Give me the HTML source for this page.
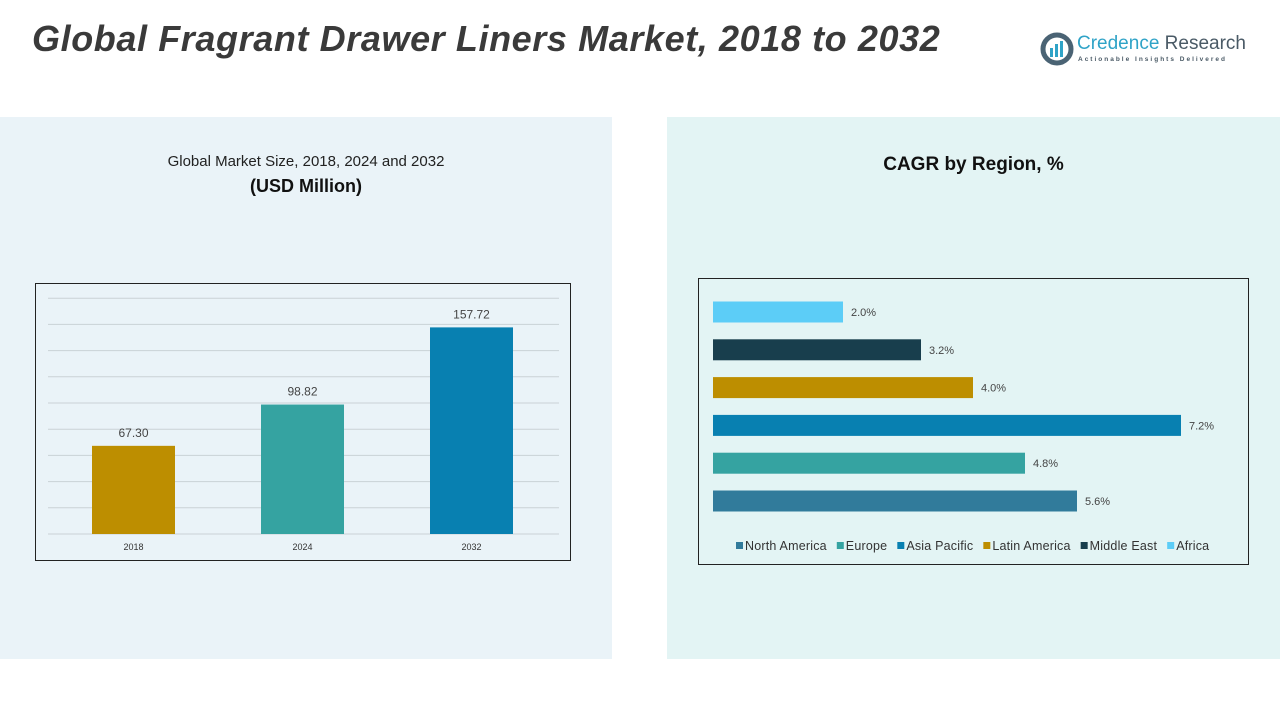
<!DOCTYPE html>
<html><head><meta charset="utf-8">
<style>
body{margin:0;width:1280px;height:720px;background:#fff;position:relative;overflow:hidden;font-family:"Liberation Sans",sans-serif;}
.abs{position:absolute;}
</style></head>
<body>
<div class="abs" style="left:32px;top:18px;font-size:36px;font-weight:bold;font-style:italic;color:#3a3a3a;letter-spacing:0.6px;">Global Fragrant Drawer Liners Market, 2018 to 2032</div>
<div class="abs" style="left:1040px;top:30px;width:215px;height:40px;">
  <svg width="34" height="34" viewBox="0 0 34 34" style="position:absolute;left:0;top:2px">
    <circle cx="17" cy="17" r="14" fill="none" stroke="#4a6374" stroke-width="5"/>
    <rect x="10" y="16" width="3" height="9" fill="#2fa3c7"/><rect x="15" y="12" width="3" height="13" fill="#2fa3c7"/><rect x="20" y="9" width="3" height="16" fill="#2fa3c7"/>
  </svg>
  <div class="abs" style="left:37px;top:3px;font-size:19px;color:#2fa3c7;white-space:nowrap;">Credence <span style="color:#4a5a66">Research</span></div>
  <div class="abs" style="left:38px;top:26px;font-size:6.5px;letter-spacing:2px;color:#4a5a66;white-space:nowrap;font-weight:bold;">Actionable Insights Delivered</div>
</div>
<div class="abs" style="left:0;top:117px;width:612px;height:542px;background:#eaf3f8;"></div>
<div class="abs" style="left:667px;top:117px;width:613px;height:542px;background:#e3f4f4;"></div>
<div class="abs" style="left:0;top:153px;width:612px;text-align:center;font-size:15px;color:#222;">Global Market Size, 2018, 2024 and 2032</div>
<div class="abs" style="left:0;top:176px;width:612px;text-align:center;font-size:18px;font-weight:bold;color:#111;">(USD Million)</div>
<div class="abs" style="left:667px;top:154px;width:613px;text-align:center;font-size:19px;font-weight:bold;color:#111;">CAGR by Region, %</div>

<svg class="abs" style="left:0;top:0" width="1280" height="720" id="charts">
  <rect x="35.5" y="283.5" width="535" height="277" fill="none" stroke="#222" stroke-width="1"/>
  <rect x="698.5" y="278.5" width="550" height="286" fill="none" stroke="#222" stroke-width="1"/>
  <g id="left"></g><g id="right"></g>
</svg>
<script>
const years=["2018","2024","2032"];
const sizes=[67.30,98.82,157.72];
const sizeLabels=["67.30","98.82","157.72"];
const yTicks=[0,20,40,60,80,100,120,140,160,180];
const regions=["Africa","Middle East","Latin America","Asia Pacific","Europe","North America"];
const cagr=[2.0,3.2,4.0,7.2,4.8,5.6];
const cagrLabels=["2.0%","3.2%","4.0%","7.2%","4.8%","5.6%"];
const legendOrder=["North America","Europe","Asia Pacific","Latin America","Middle East","Africa"];
const colors={"North America":"#317b9b","Europe":"#35a3a1","Asia Pacific":"#0880b1","Latin America":"#bd8e00","Middle East":"#183e4d","Africa":"#5ccdf7"};
const yearColors=["#bd8e00","#35a3a1","#0880b1"];
const NS="http://www.w3.org/2000/svg";
function mk(t,a,p){const e=document.createElementNS(NS,t);for(const k in a)e.setAttribute(k,a[k]);p.appendChild(e);return e;}
const L=document.getElementById('left'),R=document.getElementById('right');
const y0=534,yScale=v=>y0-v*1.31;
const xBand=i=>92+i*169,bw=83;
yTicks.forEach(t=>{const l=mk('line',{x1:48,x2:559,y1:yScale(t),y2:yScale(t),stroke:'#c9d2d6','stroke-width':1},L);

});
years.forEach((yr,i)=>{
 const r=mk('rect',{x:xBand(i),y:yScale(sizes[i]),width:bw,height:y0-yScale(sizes[i]),fill:yearColors[i]},L);
 
 
 const v=mk('text',{x:xBand(i)+bw/2,y:yScale(sizes[i])-9,'text-anchor':'middle','font-size':12,fill:'#444','font-family':'Liberation Sans'},L);v.textContent=sizeLabels[i];
 
 
 const x=mk('text',{x:xBand(i)+bw/2,y:550,'text-anchor':'middle','font-size':9,fill:'#333','font-family':'Liberation Sans'},L);x.textContent=yr;
 
 
});
const x0=713,xs=v=>x0+v*65,yc=i=>312+i*37.8,bh=21;
regions.forEach((rg,i)=>{
 const r=mk('rect',{x:x0,y:yc(i)-bh/2,width:xs(cagr[i])-x0,height:bh,fill:colors[rg]},R);
 
 
 const t=mk('text',{x:xs(cagr[i])+8,y:yc(i)+4,'font-size':11,fill:'#444','font-family':'Liberation Sans'},R);t.textContent=cagrLabels[i];
 
 
});
let lx=736;
legendOrder.forEach(rg=>{
 const g=mk('g',{},R);
 
 
 mk('rect',{x:lx,y:542,width:7,height:7,fill:colors[rg]},g);
 const t=mk('text',{x:lx+9,y:550,'font-size':12.5,fill:'#333','font-family':'Liberation Sans','letter-spacing':'0.2'},g);t.textContent=rg;
 lx+=9+t.getComputedTextLength()+10;
});
</script>
</body></html>
